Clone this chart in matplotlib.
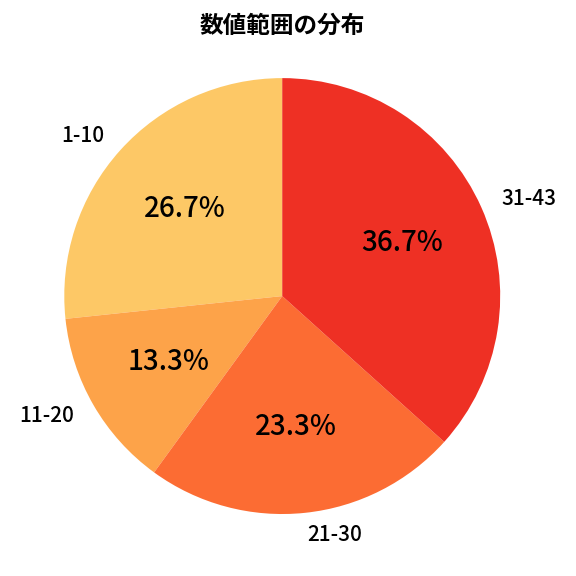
import matplotlib
matplotlib.use("Agg")
import matplotlib.pyplot as plt

plt.rcParams['font.family'] = ['Noto Sans CJK JP', 'DejaVu Sans']

categories = ["1-10", "11-20", "21-30", "31-43"]
counts = [8, 4, 7, 11]
colors = ["#FDC866", "#FDA349", "#FC6C33", "#EE3024"]
title = "数値範囲の分布"

fig = plt.figure(figsize=(5.76, 5.76), dpi=100)
ax = fig.add_axes([0.017, 0.013, 0.946, 0.946])
wedges, texts, autotexts = ax.pie(counts, labels=categories, colors=colors,
                                  autopct='%1.1f%%', startangle=90,
                                  counterclock=True, labeldistance=1.1,
                                  pctdistance=0.6,
                                  textprops={'fontsize': 15, 'fontweight': 'medium'})
for t in autotexts:
    t.set_fontsize(20)
ax.set_aspect('equal')
fig.text(0.49, 0.955, title, fontsize=17, fontweight='bold', ha='center', va='center')
fig.savefig("out.png", dpi=100)
